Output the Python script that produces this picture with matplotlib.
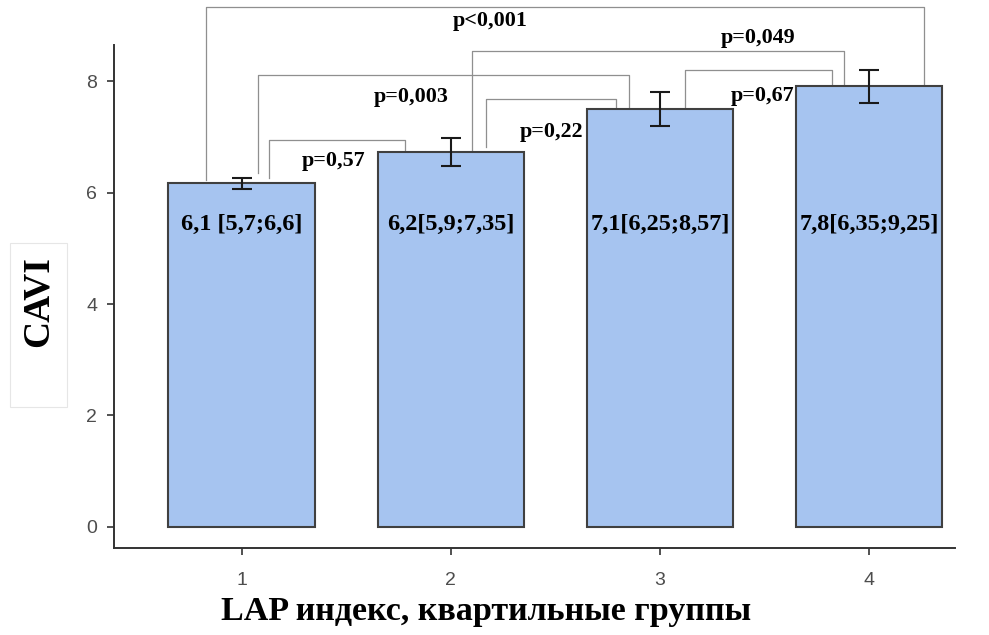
import numpy as np
import matplotlib
matplotlib.use("Agg")
import matplotlib.pyplot as plt
from matplotlib.patches import Rectangle

# quartile groups of LAP index and CAVI means
groups = [1, 2, 3, 4]
cavi_mean = [6.17, 6.73, 7.50, 7.91]
cavi_err = [0.10, 0.26, 0.30, 0.30]
median_labels = ["6,1 [5,7;6,6]", "6,2[5,9;7,35]", "7,1[6,25;8,57]", "7,8[6,35;9,25]"]

# pairwise comparisons: group pair and p-value text
pairs = [(1, 4), (1, 3), (1, 2), (2, 3), (2, 4), (3, 4)]
p_texts = ["p<0,001", "p=0,003", "p=0,57", "p=0,22", "p=0,049", "p=0,67"]

# bracket geometry (leg offsets from group centre, top height, leg ends)
leg_left = [-0.17, 0.076, 0.13, 0.17, 0.10, 0.12]
leg_right = [0.26, -0.15, -0.22, -0.21, -0.12, -0.18]
bracket_top = [9.33, 8.11, 6.94, 7.68, 8.54, 8.20]
foot_left = [6.22, 6.35, 6.26, 6.82, 6.76, 7.51]
foot_right = [7.96, 7.51, 6.73, 7.51, 7.96, 7.96]
label_pos = [(2.19, 9.08), (1.81, 7.71), (1.44, 6.57), (2.48, 7.09), (3.47, 8.77), (3.49, 7.73)]

serif = "Liberation Serif"
sans = "Liberation Sans"

fig = plt.figure(figsize=(9.89, 6.35), dpi=100)
ax = fig.add_axes([0.1153, 0.137, 0.8503, 0.792])

ax.bar(groups, cavi_mean, width=0.7, color="#a6c4f0", edgecolor="#404040", linewidth=1.5, zorder=2)
ax.errorbar(groups, cavi_mean, yerr=cavi_err, fmt="none", ecolor="#1a1a1a",
            elinewidth=1.5, capsize=7.5, capthick=1.5, zorder=3)

for g, txt in zip(groups, median_labels):
    ax.text(g, 5.43, txt, ha="center", va="center", fontsize=17.5,
            fontweight="bold", family=serif, color="black", zorder=4)

for i, (a, b) in enumerate(pairs):
    xl = a + leg_left[i]
    xr = b + leg_right[i]
    ax.plot([xl, xl, xr, xr], [foot_left[i], bracket_top[i], bracket_top[i], foot_right[i]],
            color="#8f8f8f", linewidth=0.9, clip_on=False, zorder=1)
    lx, ly = label_pos[i]
    ax.text(lx, ly, p_texts[i], ha="center", va="center", fontsize=15.8,
            fontweight="bold", family=serif, color="black", zorder=5)

ax.set_xlim(0.39, 4.41)
ax.set_ylim(-0.38, 8.65)
ax.set_xticks(groups)
ax.set_yticks([0, 2, 4, 6, 8])
ax.spines["top"].set_visible(False)
ax.spines["right"].set_visible(False)
for s in ["left", "bottom"]:
    ax.spines[s].set_color("#333333")
    ax.spines[s].set_linewidth(1.4)
ax.tick_params(length=5, width=1.2, color="#333333", labelcolor="#4d4d4d", labelsize=14)
ax.tick_params(axis="x", pad=12)
ax.tick_params(axis="y", pad=7)
for lab in ax.get_xticklabels() + ax.get_yticklabels():
    lab.set_family(sans)

# axis titles
fig.text(486 / 989, 1 - 620 / 635, "LAP индекс, квартильные группы", ha="center", va="baseline",
         fontsize=24.5, fontweight="bold", family=serif)
fig.patches.append(Rectangle((10 / 989, 1 - 407 / 635), 57 / 989, 164 / 635,
                             transform=fig.transFigure, facecolor="white",
                             edgecolor="#e6e6e6", linewidth=0.8))
fig.text(38 / 989, 1 - 302 / 635, "CAVI", rotation=90, ha="center", va="center",
         fontsize=27, fontweight="bold", family=serif)

fig.savefig("out.png", dpi=100)
